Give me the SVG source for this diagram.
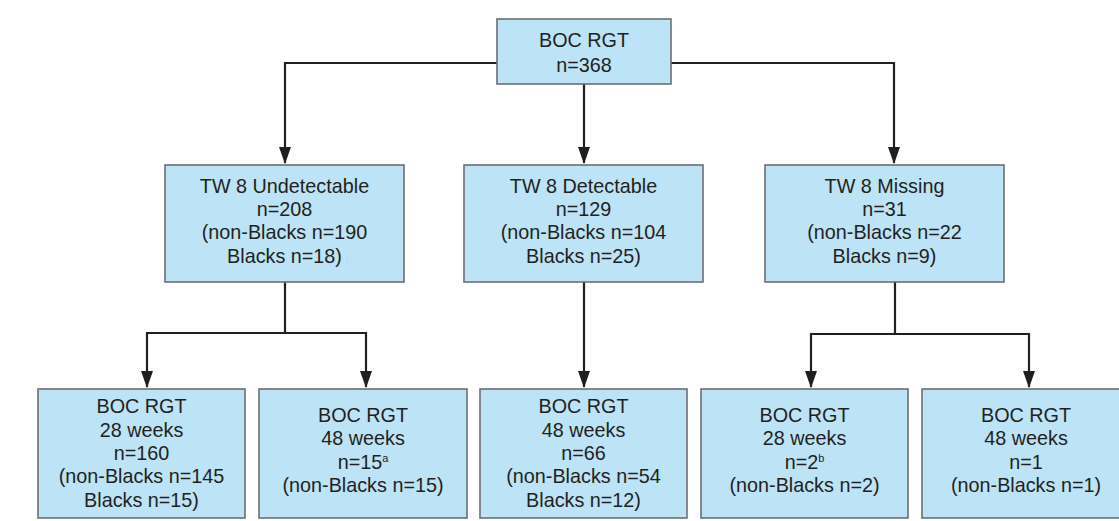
<svg xmlns="http://www.w3.org/2000/svg" width="1119" height="521" viewBox="0 0 1119 521">
<style>
.box{fill:#bde3f7;stroke:#6d6e71;stroke-width:1.6}
.t{font-family:"Liberation Sans",Arial,sans-serif;font-size:19.8px;fill:#231f20;text-anchor:middle}
.sup{font-size:11px}
.c{fill:none;stroke:#231f20;stroke-width:2.2}
.ah{fill:#231f20}
</style>
<rect width="1119" height="521" fill="#ffffff"/>
<g id="connectors">
<path class="c" d="M497,63 H285 V163"/>
<path class="c" d="M671,63 H894 V163"/>
<path class="c" d="M584,84 V163"/>
<path class="c" d="M285,282 V333 H147 V387"/>
<path class="c" d="M285,333 H366 V387"/>
<path class="c" d="M584,282 V387"/>
<path class="c" d="M895,282 V334 H811 V387"/>
<path class="c" d="M895,334 H1029 V387"/>
<path class="ah" d="M279,147 L291,147 L285,164 Z"/>
<path class="ah" d="M578,147 L590,147 L584,164 Z"/>
<path class="ah" d="M888,147 L900,147 L894,164 Z"/>
<path class="ah" d="M141,371 L153,371 L147,388 Z"/>
<path class="ah" d="M360,371 L372,371 L366,388 Z"/>
<path class="ah" d="M578,371 L590,371 L584,388 Z"/>
<path class="ah" d="M805,371 L817,371 L811,388 Z"/>
<path class="ah" d="M1023,371 L1035,371 L1029,388 Z"/>
</g>
<g id="n-root">
<rect class="box" x="497" y="19" width="174" height="65"/>
<text class="t" x="584" y="47">BOC RGT</text>
<text class="t" x="584" y="72">n=368</text>
</g>
<g id="n-undet">
<rect class="box" x="165" y="165" width="239" height="117"/>
<text class="t" x="284.5" y="193">TW 8 Undetectable</text>
<text class="t" x="284.5" y="216">n=208</text>
<text class="t" x="284.5" y="239">(non-Blacks n=190</text>
<text class="t" x="284.5" y="263">Blacks n=18)</text>
</g>
<g id="n-det">
<rect class="box" x="464" y="165" width="239" height="117"/>
<text class="t" x="583.5" y="193">TW 8 Detectable</text>
<text class="t" x="583.5" y="216">n=129</text>
<text class="t" x="583.5" y="239">(non-Blacks n=104</text>
<text class="t" x="583.5" y="263">Blacks n=25)</text>
</g>
<g id="n-miss">
<rect class="box" x="765" y="165" width="239" height="117"/>
<text class="t" x="884.5" y="193">TW 8 Missing</text>
<text class="t" x="884.5" y="216">n=31</text>
<text class="t" x="884.5" y="239">(non-Blacks n=22</text>
<text class="t" x="884.5" y="263">Blacks n=9)</text>
</g>
<g id="n-b1">
<rect class="box" x="38" y="389" width="207" height="129"/>
<text class="t" x="141.5" y="413">BOC RGT</text>
<text class="t" x="141.5" y="437">28 weeks</text>
<text class="t" x="141.5" y="460">n=160</text>
<text class="t" x="141.5" y="483">(non-Blacks n=145</text>
<text class="t" x="141.5" y="507">Blacks n=15)</text>
</g>
<g id="n-b2">
<rect class="box" x="259" y="389" width="208" height="129"/>
<text class="t" x="363" y="422">BOC RGT</text>
<text class="t" x="363" y="445">48 weeks</text>
<text class="t" x="363" y="469">n=15<tspan class="sup" dy="-7">a</tspan></text>
<text class="t" x="363" y="492">(non-Blacks n=15)</text>
</g>
<g id="n-b3">
<rect class="box" x="480" y="389" width="207" height="129"/>
<text class="t" x="583.5" y="413">BOC RGT</text>
<text class="t" x="583.5" y="437">48 weeks</text>
<text class="t" x="583.5" y="460">n=66</text>
<text class="t" x="583.5" y="483">(non-Blacks n=54</text>
<text class="t" x="583.5" y="507">Blacks n=12)</text>
</g>
<g id="n-b4">
<rect class="box" x="701" y="389" width="207" height="129"/>
<text class="t" x="804.5" y="422">BOC RGT</text>
<text class="t" x="804.5" y="445">28 weeks</text>
<text class="t" x="804.5" y="469">n=2<tspan class="sup" dy="-7">b</tspan></text>
<text class="t" x="804.5" y="492">(non-Blacks n=2)</text>
</g>
<g id="n-b5">
<rect class="box" x="922" y="389" width="207" height="129"/>
<text class="t" x="1026" y="422">BOC RGT</text>
<text class="t" x="1026" y="445">48 weeks</text>
<text class="t" x="1026" y="469">n=1</text>
<text class="t" x="1026" y="492">(non-Blacks n=1)</text>
</g>
</svg>
